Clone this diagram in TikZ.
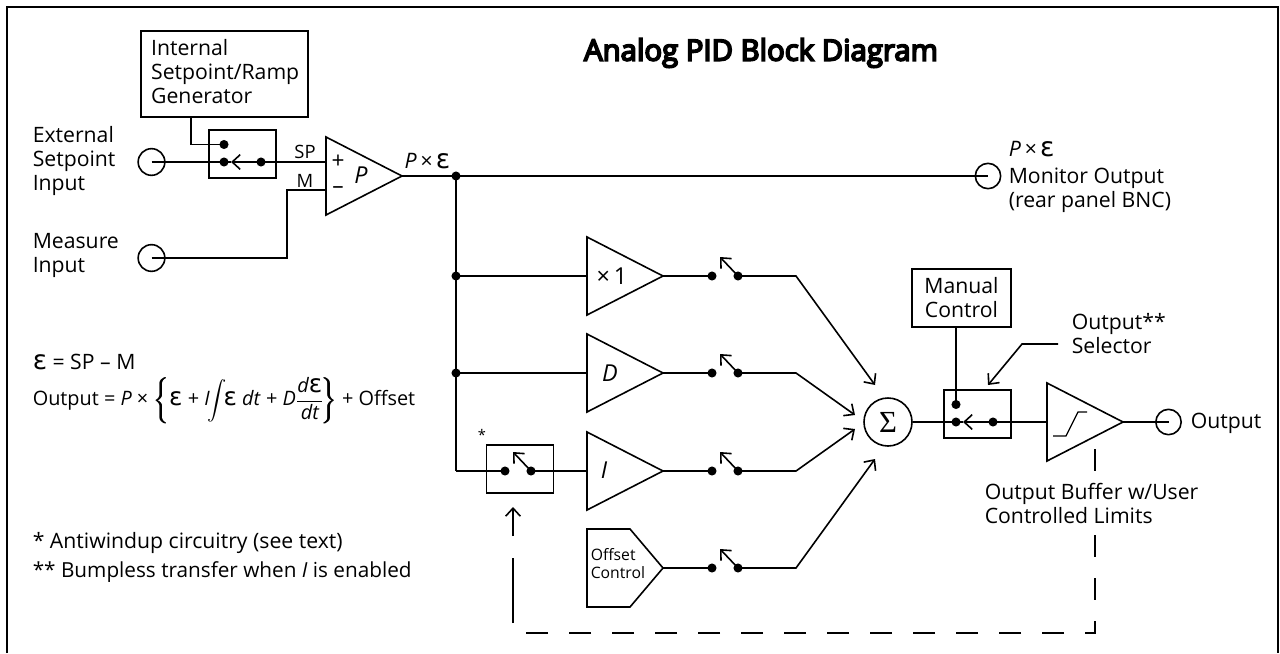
\documentclass[tikz,border=0pt]{standalone}
\usepackage{fontspec}
\usepackage{amsmath}
\setmainfont{Open Sans}
\newfontfamily\epsfont{DejaVu Sans}[Scale=1.25]
\newfontfamily\sigfont{Liberation Serif}
\newfontfamily\titlefont{Open Sans}[FakeBold=6]
\usetikzlibrary{arrows.meta}
\newcommand{\eps}{{\upshape\epsfont ε}}
\newcommand{\fatbrace}[1]{\rlap{$\bigg#1$}\kern0.5pt\rlap{$\bigg#1$}\kern0.5pt$\bigg#1$}
\newcommand{\ampblock}[3]{%
  \coordinate (#1in) at (#2,#3);
  \coordinate (#1out) at (#2+76,#3);
  \draw (#2,#3-39) -- (#2+76,#3) -- (#2,#3+39) -- cycle;}
\newcommand{\switchopen}[3]{%
  \node[dotnode] (#1a) at (#2,#3) {};
  \node[dotnode] (#1b) at (#2+26,#3) {};
  \coordinate (#1t) at (#2+8,#3-19);
  \draw[tipped] (#1b.center) -- (#1t);}
\newcommand{\switchsel}[3]{%
  \node[dotnode] (#1u) at (#2,#3-17.5) {};
  \node[dotnode] (#1a) at (#2,#3) {};
  \node[dotnode] (#1b) at (#2+37,#3) {};
  \coordinate (#1t) at (#2+7,#3);
  \draw[tipped] (#1b.center) -- (#1t);
  \draw (#1t) -- (#1a.center);}
\tikzset{
  dotnode/.style={circle,fill=black,inner sep=0pt,minimum size=6.8pt},
  tipped/.style={-{Straight Barb[length=6pt,width=11pt,line width=1.2pt]}},
  jack/.style={circle,draw,inner sep=0pt,minimum size=19pt},
  bigjack/.style={circle,draw,inner sep=0pt,minimum size=20pt},
  swbox/.style={draw,inner sep=0pt,minimum width=50pt,minimum height=36pt},
  lab/.style={anchor=north west,inner sep=0pt,align=left,font=\fontsize{15.9}{18}\selectfont},
  small/.style={inner sep=0pt,font=\fontsize{13.8}{14}\selectfont},
  sign/.style={inner sep=0pt,font=\fontsize{17}{18}\selectfont},
  symb/.style={inner sep=0pt,font=\fontsize{17.5}{18}\selectfont\itshape},
}
\begin{document}
\begin{tikzpicture}[x=0.75pt,y=-0.75pt,line width=1.2pt]
\useasboundingbox (0,0) rectangle (1280,653);
\coordinate (fa) at (7,653); \coordinate (fb) at (7,7);
\coordinate (fc) at (1278,7); \coordinate (fd) at (1278,653);
\draw[line width=1.5pt] (fa) -- (fb) -- (fc) -- (fd);

\node[inner sep=0pt,font=\fontsize{22}{26}\selectfont\titlefont] (title) at (761,53) {Analog PID Block Diagram};

% setpoint section
\node[draw,inner xsep=7.5pt,inner ysep=0pt,text width=110pt,minimum height=64.5pt,align=left,font=\fontsize{15.9}{18}\selectfont] (ramp) at (224.5,74) {Internal\\\mbox{Setpoint/Ramp}\\Generator\\[-14pt]\mbox{}};
\node[lab] (ext) at (32,126) {External\\Setpoint\\Input};
\node[bigjack] (extj) at (151.5,162) {};
\node[lab] (mea) at (32,233) {Measure\\Input};
\node[bigjack] (meaj) at (151.5,258) {};
\node[swbox] (sw1) at (242.5,154) {};
\switchsel{a}{224}{162}
\ampblock{P}{326}{176}
\node[symb] (Pl) at (361,175) {P};
\node[sign] (plus) at (338,162) {+};
\node[sign] (minus) at (338,190) {--};
\node[small] (splab) at (305,152) {SP};
\node[small] (mlab) at (305,181) {M};
\coordinate (Pplus) at (326,162);
\coordinate (Pminus) at (326,190);
\coordinate (mcorner1) at (287,258);
\coordinate (mcorner2) at (287,190);
\coordinate (rampdrop) at (191,117);
\coordinate (rampcorner) at (191,144.5);
\draw (rampdrop) -- (rampcorner) -- (au.center);
\draw (extj.center) -- (aa.center);
\draw (ab.center) -- (Pplus);
\draw (meaj.center) -- (mcorner1) -- (mcorner2) -- (Pminus);
\node[inner sep=0pt,font=\fontsize{16}{18}\selectfont\itshape] (pe) at (427.5,161) {P\,×\,\eps};

% forward path
\node[dotnode] (j1) at (456,176) {};
\node[dotnode] (j2) at (456,276) {};
\node[dotnode] (j3) at (456,373) {};
\coordinate (j4) at (456,471);
\node[jack] (monj) at (988,176) {};
\draw (Pout) -- (j1.center) -- (monj.center);
\draw (j1.center) -- (j2.center) -- (j3.center) -- (j4);
\node[inner sep=0pt,anchor=west,font=\fontsize{16}{18}\selectfont\itshape] (pe2) at (1008,149) {P\,×\,\eps};
\node[lab] (mon) at (1008,167) {Monitor Output\\(rear panel BNC)};

% branches
\ampblock{X}{587}{276}
\ampblock{D}{587}{373}
\ampblock{I}{587}{471}
\node[inner sep=0pt,font=\fontsize{17.5}{18}\selectfont] (Xl) at (612,276) {×\,1};
\node[symb] (Dl) at (610,373) {D};
\node[symb] (Il) at (604,470) {I};
\draw (587,529) -- (630,529) -- (663,568) -- (630,607) -- (587,607) -- cycle;
\coordinate (Oout) at (663,568);
\node[anchor=north west,inner sep=0pt,align=left,font=\fontsize{11.8}{13.5}\selectfont] (off) at (590,548) {Offset\\Control};
\switchopen{s1}{712}{276}
\switchopen{s2}{712}{373}
\switchopen{s3}{712}{471}
\switchopen{s4}{712}{568}
\node[swbox] (sw2) at (520,469) {};
\switchopen{s5}{505}{471}
\node[inner sep=0pt,font=\fontsize{11}{12}\selectfont] (star) at (482,435) {*};
\draw (j2.center) -- (Xin);
\draw (j3.center) -- (Din);
\draw (j4) -- (s5a.center);
\draw (s5b.center) -- (Iin);
\draw (Xout) -- (s1a.center);
\draw (Dout) -- (s2a.center);
\draw (Iout) -- (s3a.center);
\draw (Oout) -- (s4a.center);

% summing
\node[circle,draw,inner sep=0pt,minimum size=36pt,font=\fontsize{23}{24}\selectfont\sigfont] (sum) at (888,422) {Σ};
\coordinate (k1) at (796,276); \coordinate (t1) at (875,385);
\coordinate (k2) at (796,373); \coordinate (t2) at (855,415);
\coordinate (k3) at (796,471); \coordinate (t3) at (855,429);
\coordinate (k4) at (796,568); \coordinate (t4) at (875,459);
\draw[tipped] (s1b.center) -- (k1) -- (t1);
\draw[tipped] (s2b.center) -- (k2) -- (t2);
\draw[tipped] (s3b.center) -- (k3) -- (t3);
\draw[tipped] (s4b.center) -- (k4) -- (t4);

% output section
\node[draw,inner sep=0pt,minimum width=74pt,minimum height=43.5pt,align=center,font=\fontsize{15.9}{18}\selectfont] (man) at (961.5,298) {Manual\\Control};
\node[swbox] (sw3) at (977.5,414) {};
\switchsel{o}{956}{422}
\coordinate (mand) at (956,327);
\draw (mand) -- (ou.center);
\draw (sum.east) -- (oa.center);
\ampblock{B}{1047}{422}
\draw (ob.center) -- (Bin);
\coordinate (l1) at (1053,436); \coordinate (l2) at (1066,436);
\coordinate (l3) at (1078,412); \coordinate (l4) at (1087,412);
\draw[line width=0.9pt] (l1) -- (l2) -- (l3) -- (l4);
\node[jack] (outj) at (1168.5,422) {};
\draw (Bout) -- (outj.center);
\node[lab] (outl) at (1190,412) {Output};
\node[lab] (sel) at (1071,313) {Output**\\Selector};
\coordinate (q1) at (1058,344); \coordinate (q2) at (1022,344); \coordinate (q3) at (988,385);
\draw[tipped] (q1) -- (q2) -- (q3);

% antiwindup feedback
\coordinate (d0) at (1095,449); \coordinate (d1) at (1095,633); \coordinate (d2) at (513,633);
\coordinate (d3) at (513,623); \coordinate (d4) at (513,558); \coordinate (d5) at (513,536); \coordinate (d6) at (513,507);
\draw[dash pattern=on 16.5pt off 15.75pt] (d0) -- (d1) -- (d2);
\draw (d3) -- (d4);
\draw[tipped] (d5) -- (d6);
\node[lab,fill=white,inner ysep=0pt] (buf) at (984,482) {Output Buffer w/User\\Controlled Limits};

% equations and notes
\node[lab] (e1) at (32,353) {\eps{} = SP -- M};
\node[anchor=west,inner sep=0pt,font=\fontsize{14.9}{18}\selectfont] (e2) at (32,401) {Output = \textit{P} × \fatbrace\{\eps{} + \textit{I}\kern-2pt$\displaystyle\int$\kern-2pt\eps{} \textit{dt} + \textit{D}$\dfrac{\hbox{\itshape d\eps}}{\hbox{\itshape dt}}$\kern-2pt\fatbrace\} + Offset};
\node[lab] (n1) at (32,532) {* Antiwindup circuitry (see text)};
\node[lab,font=\fontsize{15.55}{18}\selectfont] (n2) at (32,561) {** Bumpless transfer when \textit{I} is enabled};
\end{tikzpicture}
\end{document}
